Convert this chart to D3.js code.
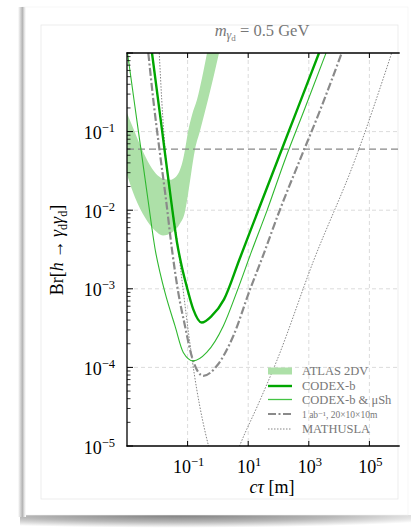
<!DOCTYPE html>
<meta charset="utf-8">
<style>
    body { margin: 0; background: #fff; }
    svg text { font-family: "Liberation Serif", "DejaVu Serif", serif; }
</style>
<script src="https://d3js.org/d3.v7.min.js"></script>
<svg id="chart" width="411" height="532"></svg>
<script>
    // ---- data : [c tau in m, Br] ----
    var atlasOuter = [[1e-3, 2.83e-2], [1.84e-3, 1.45e-2], [3.93e-3, 8.05e-3], [8.39e-3, 5.51e-3],
        [1.54e-2, 4.76e-3], [3.05e-2, 5.20e-3], [5.61e-2, 6.76e-3], [8.20e-2, 9.59e-3],
        [1.03e-1, 1.58e-2], [1.29e-1, 2.83e-2], [1.75e-1, 5.87e-2], [2.56e-1, 1.02e-1],
        [4.71e-1, 2.54e-1], [7.43e-1, 5.26e-1], [1.09, 1]];
    var atlasInner = [[1e-3, 1.73e-1], [1.58e-3, 1.12e-1], [2.69e-3, 6.79e-2], [4.93e-3, 4.14e-2],
        [9.06e-3, 2.91e-2], [1.54e-2, 2.52e-2], [2.62e-2, 2.44e-2], [4.14e-2, 2.67e-2],
        [5.61e-2, 3.27e-2], [7.05e-2, 4.39e-2], [8.20e-2, 5.87e-2], [1.03e-1, 9.93e-2],
        [1.40e-1, 1.63e-1], [2.04e-1, 2.54e-1], [2.99e-1, 4.82e-1], [4.37e-1, 1]];
    var codexb = [[6.68e-3, 1], [1.43e-2, 1.05e-1], [2.83e-2, 1.36e-2], [4.47e-2, 3.88e-3],
        [6.53e-2, 1.87e-3], [9.55e-2, 1.04e-3], [1.54e-1, 5.48e-4], [2.92e-1, 3.72e-4],
        [6.24e-1, 4.51e-4], [1.59, 7.33e-4], [5.13, 2.36e-3], [22.0, 1.02e-2],
        [94.8, 4.39e-2], [411, 1.89e-1], [2173, 1]];
    var codexbMuSh = [[1.04e-3, 1], [1.70e-3, 2.54e-1], [2.90e-3, 5.87e-2], [4.93e-3, 1.36e-2],
        [8.73e-3, 2.99e-3], [1.23e-2, 1.61e-3], [1.79e-2, 8.99e-4], [3.84e-2, 3.37e-4],
        [7.21e-2, 1.55e-4], [1.54e-1, 1.21e-4], [4.27e-1, 1.55e-4], [1.51, 3.37e-4],
        [4.27, 9.27e-4], [12.9, 2.99e-3], [41.7, 9.89e-3], [164, 4.39e-2], [750, 2.00e-1],
        [3698, 1]];
    var bigDetector = [[5.05e-3, 1], [7.38e-3, 2.54e-1], [1.18e-2, 5.87e-2], [1.94e-2, 1.36e-2],
        [3.05e-2, 3.16e-3], [4.93e-2, 8.93e-4], [8.20e-2, 3.37e-4], [1.36e-1, 1.40e-4],
        [3.30e-1, 7.80e-5], [9.12e-1, 1.04e-4], [3.22, 2.51e-4], [11.5, 9.82e-4],
        [27.7, 2.36e-3], [112, 1.02e-2], [513, 4.39e-2], [2529, 2.00e-1], [1.22e4, 1]];
    var mathusla = [[1.16e-2, 1], [1.40e-2, 2.54e-1], [4.93e-2, 3.16e-3], [2.00e-1, 5.28e-5],
        [4.82e-1, 1.03e-5], [1.59, 2.84e-6], [5.36, 1.03e-5], [21.5, 3.41e-5],
        [87.3, 1.21e-4], [1409, 2.23e-3], [3.35e4, 4.39e-2], [5.45e5, 1]];
    var hLimit = 0.06;

    var xTicks = [1e-1, 1e1, 1e3, 1e5];
    var xTickExp = ["\u22121", "1", "3", "5"];
    var yTicks = [1e-5, 1e-4, 1e-3, 1e-2, 1e-1];
    var yTickExp = ["\u22125", "\u22124", "\u22123", "\u22122", "\u22121"];

    var svg = d3.select("#chart");

    // ---- card with shadows ----
    var defs = svg.append("defs");
    var lg = defs.append("linearGradient").attr("id", "leftShade");
    lg.append("stop").attr("offset", 0).attr("stop-color", "#fff");
    lg.append("stop").attr("offset", 0.55).attr("stop-color", "#b4b4b4");
    lg.append("stop").attr("offset", 0.8).attr("stop-color", "#e4e4e4");
    lg.append("stop").attr("offset", 1).attr("stop-color", "#fff");
    var rg = defs.append("radialGradient").attr("id", "bottomShade")
        .attr("cx", 0.4).attr("cy", 0).attr("r", 0.75);
    rg.append("stop").attr("offset", 0).attr("stop-color", "#7c7c7c");
    rg.append("stop").attr("offset", 0.55).attr("stop-color", "#b8b8b8");
    rg.append("stop").attr("offset", 1).attr("stop-color", "#fff");

    svg.append("rect").attr("x", 20).attr("y", 515).attr("width", 391).attr("height", 17)
        .attr("fill", "url(#bottomShade)");
    svg.append("rect").attr("x", 22).attr("y", 7).attr("width", 386).attr("height", 508)
        .attr("fill", "#fff").attr("stroke", "#f2f2f2").attr("stroke-width", 0.6);
    svg.append("rect").attr("x", 18).attr("y", 7).attr("width", 8).attr("height", 510)
        .attr("fill", "url(#leftShade)");
    svg.append("rect").attr("x", 41).attr("y", 25).attr("width", 357).attr("height", 474)
        .attr("fill", "none").attr("stroke", "#e8e8e8").attr("stroke-width", 0.8);

    // ---- scales ----
    var x = d3.scaleLog().domain([1e-3, 1e6]).range([127, 399.7]);
    var y = d3.scaleLog().domain([1e-5, 1]).range([446, 53]);

    defs.append("clipPath").attr("id", "plotClip").append("rect")
        .attr("x", 127).attr("y", 53).attr("width", 272.7).attr("height", 393);

    // grid
    var grid = svg.append("g");
    grid.selectAll(".gx").data(xTicks).enter().append("line")
        .attr("x1", d => x(d)).attr("x2", d => x(d)).attr("y1", 53).attr("y2", 446);
    grid.selectAll(".gy").data(yTicks.slice(1)).enter().append("line")
        .attr("x1", 127).attr("x2", 399.7).attr("y1", d => y(d)).attr("y2", d => y(d));
    grid.selectAll("line").attr("stroke", "#d2d2d2").attr("stroke-width", 0.8)
        .attr("stroke-dasharray", "4,3");

    var plot = svg.append("g").attr("clip-path", "url(#plotClip)");
    var line = d3.line().x(d => x(d[0])).y(d => y(d[1])).curve(d3.curveMonotoneX);

    // ATLAS band
    var bandPath = line(atlasOuter) + "L" + line(atlasInner.slice().reverse()).slice(1) + "Z";
    plot.append("path").attr("d", bandPath).attr("fill", "#ade0a8");

    // horizontal limit
    plot.append("line").attr("x1", 127).attr("x2", 399.7)
        .attr("y1", y(hLimit)).attr("y2", y(hLimit))
        .attr("stroke", "#888").attr("stroke-width", 1.3).attr("stroke-dasharray", "7,4");

    plot.append("path").attr("d", line(mathusla)).attr("fill", "none")
        .attr("stroke", "#777").attr("stroke-width", 0.9).attr("stroke-dasharray", "1.5,1.5");
    plot.append("path").attr("d", line(bigDetector)).attr("fill", "none")
        .attr("stroke", "#8a8a8a").attr("stroke-width", 2.2).attr("stroke-dasharray", "8,2.5,2,2.5");
    plot.append("path").attr("d", line(codexbMuSh)).attr("fill", "none")
        .attr("stroke", "#2fb82f").attr("stroke-width", 1.1);
    plot.append("path").attr("d", line(codexb)).attr("fill", "none")
        .attr("stroke", "#00a600").attr("stroke-width", 2.4);

    // ---- axes ----
    var ax = svg.append("g").attr("stroke", "#000").attr("stroke-width", 1.3);
    ax.append("line").attr("x1", 127).attr("x2", 127).attr("y1", 52.4).attr("y2", 446.6);
    ax.append("line").attr("x1", 126.4).attr("x2", 399.7).attr("y1", 446).attr("y2", 446);
    ax.append("line").attr("x1", 126.4).attr("x2", 399.7).attr("y1", 53).attr("y2", 53);

    var minorY = [];
    yTicks.forEach(function(d) { for (var k = 2; k < 10; k++) minorY.push(d * k); });
    ax.selectAll(".ym").data(minorY).enter().append("line")
        .attr("x1", 127).attr("x2", 130.5).attr("y1", d => y(d)).attr("y2", d => y(d))
        .attr("stroke-width", 0.8);
    ax.selectAll(".yM").data(yTicks.concat([1])).enter().append("line")
        .attr("x1", 127).attr("x2", 133).attr("y1", d => y(d)).attr("y2", d => y(d))
        .attr("stroke-width", 1);
    ax.selectAll(".xt").data(xTicks).enter().append("line")
        .attr("x1", d => x(d)).attr("x2", d => x(d)).attr("y1", 53).attr("y2", 58)
        .attr("stroke-width", 1);
    ax.selectAll(".xb").data(xTicks).enter().append("line")
        .attr("x1", d => x(d)).attr("x2", d => x(d)).attr("y1", 446).attr("y2", 441)
        .attr("stroke-width", 1);

    // tick labels
    var yl = svg.append("g").selectAll("text").data(yTicks).enter().append("text")
        .attr("x", 115).attr("y", d => y(d) + 7.5).attr("text-anchor", "end")
        .attr("font-size", 18).attr("fill", "#000");
    yl.append("tspan").text("10");
    yl.append("tspan").attr("dy", -7).attr("font-size", 12.5).text((d, i) => yTickExp[i]);

    var xl = svg.append("g").selectAll("text").data(xTicks).enter().append("text")
        .attr("x", d => x(d) + 1).attr("y", 473).attr("text-anchor", "middle")
        .attr("font-size", 18).attr("fill", "#000");
    xl.append("tspan").text("10");
    xl.append("tspan").attr("dy", -7).attr("font-size", 12.5).text((d, i) => xTickExp[i]);

    // axis titles
    var xt = svg.append("text").attr("x", 272).attr("y", 493).attr("text-anchor", "middle")
        .attr("font-size", 18);
    xt.append("tspan").attr("font-style", "italic").text("c\u03c4");
    xt.append("tspan").text(" [m]");

    var ytl = svg.append("text").attr("transform", "translate(63,250) rotate(-90)")
        .attr("text-anchor", "middle").attr("font-size", 18);
    ytl.append("tspan").text("Br[");
    ytl.append("tspan").attr("font-style", "italic").text("h");
    ytl.append("tspan").text("\u2009\u2192\u2009");
    ytl.append("tspan").attr("font-style", "italic").text("\u03b3");
    ytl.append("tspan").attr("font-size", 12).attr("dy", 4).text("d");
    ytl.append("tspan").attr("font-style", "italic").attr("dy", -4).text("\u03b3");
    ytl.append("tspan").attr("font-size", 12).attr("dy", 4).text("d");
    ytl.append("tspan").attr("dy", -4).text("]");

    var tt = svg.append("text").attr("x", 262).attr("y", 36).attr("text-anchor", "middle")
        .attr("font-size", 16.5).attr("fill", "#777");
    tt.append("tspan").attr("font-style", "italic").text("m");
    tt.append("tspan").attr("font-style", "italic").attr("font-size", 12).attr("dy", 3).text("\u03b3");
    tt.append("tspan").attr("font-size", 9).attr("dy", 2).text("d");
    tt.append("tspan").attr("dy", -5).text(" = 0.5 GeV");

    // ---- legend ----
    var legendLabels = ["ATLAS 2DV", "CODEX-b", "CODEX-b & \u03bcSh", "1 ab\u207b\u00b9, 20\u00d710\u00d710m", "MATHUSLA"];
    var legendY = [371, 386, 399.5, 414, 429];
    var lgd = svg.append("g");
    lgd.append("rect").attr("x", 268).attr("y", legendY[0] - 3.5).attr("width", 24).attr("height", 7)
        .attr("fill", "#ade0a8");
    lgd.append("line").attr("x1", 268).attr("x2", 292).attr("y1", legendY[1]).attr("y2", legendY[1])
        .attr("stroke", "#00a600").attr("stroke-width", 2.4);
    lgd.append("line").attr("x1", 268).attr("x2", 292).attr("y1", legendY[2]).attr("y2", legendY[2])
        .attr("stroke", "#44c444").attr("stroke-width", 1.3);
    lgd.append("line").attr("x1", 268).attr("x2", 292).attr("y1", legendY[3]).attr("y2", legendY[3])
        .attr("stroke", "#8a8a8a").attr("stroke-width", 2.2).attr("stroke-dasharray", "8,2.5,2,2.5");
    lgd.append("line").attr("x1", 268).attr("x2", 292).attr("y1", legendY[4]).attr("y2", legendY[4])
        .attr("stroke", "#777").attr("stroke-width", 0.9).attr("stroke-dasharray", "1.5,1.5");
    lgd.selectAll("text").data(legendLabels).enter().append("text")
        .attr("x", 302).attr("y", (d, i) => legendY[i] + 4)
        .attr("font-size", (d, i) => i === 3 ? 9.5 : 12.5).attr("fill", "#777")
        .text(d => d);
</script>
